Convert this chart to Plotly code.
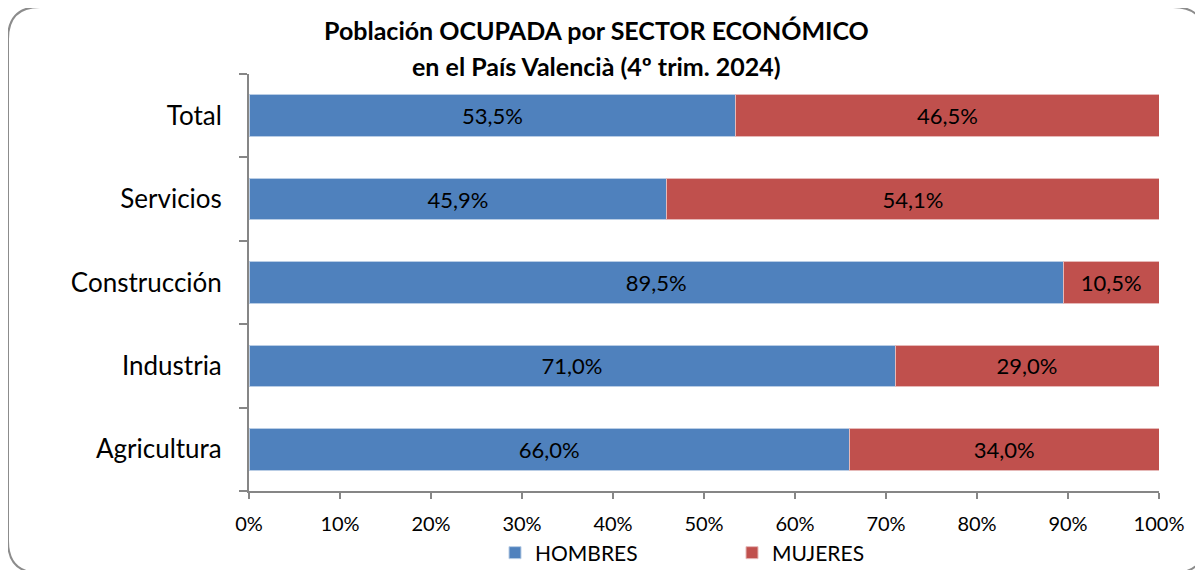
import plotly.graph_objects as go

categories = ["Agricultura", "Industria", "Construcción", "Servicios", "Total"]
hombres = [66.0, 71.0, 89.5, 45.9, 53.5]
mujeres = [34.0, 29.0, 10.5, 54.1, 46.5]
x_ticks = [0, 10, 20, 30, 40, 50, 60, 70, 80, 90, 100]
x_tick_labels = [f"{v}%" for v in x_ticks]

OFF = 8  # page body margin
W, H = 1203 - OFF, 570 - OFF
L, R, T, B = 249, 1159, 74, 491  # target pixel positions in screenshot
FONT = "Lato, 'Open Sans', sans-serif"

def px(x):
    return (x - L) / (R - L)

def py(y):
    return 1 - (y - T) / (B - T)

def fmt(v):
    return f"{v:.1f}".replace(".", ",") + "%"

fig = go.Figure()
fig.add_trace(go.Bar(
    y=categories, x=hombres, orientation="h", name="HOMBRES",
    marker=dict(color="#4F81BD", line=dict(color="#B9CDE5", width=1)),
    text=[fmt(v) for v in hombres], textposition="inside", insidetextanchor="middle",
    textfont=dict(color="black", size=22, family=FONT), hoverinfo="skip",
))
fig.add_trace(go.Bar(
    y=categories, x=mujeres, orientation="h", name="MUJERES",
    marker=dict(color="#C0504D", line=dict(color="#E6B9B8", width=1)),
    text=[fmt(v) for v in mujeres], textposition="inside", insidetextanchor="middle",
    textfont=dict(color="black", size=22, family=FONT), hoverinfo="skip",
))

# rounded outer border
x0, x1, y0, y1, r = 8, 1205, 7, 573, 32
path = (f"M {px(x0+r)} {py(y0)} L {px(x1-r)} {py(y0)} "
        f"Q {px(x1)} {py(y0)} {px(x1)} {py(y0+r)} "
        f"L {px(x1)} {py(y1-r)} Q {px(x1)} {py(y1)} {px(x1-r)} {py(y1)} "
        f"L {px(x0+r)} {py(y1)} Q {px(x0)} {py(y1)} {px(x0)} {py(y1-r)} "
        f"L {px(x0)} {py(y0+r)} "
        f"Q {px(x0)} {py(y0)} {px(x0+r)} {py(y0)} Z")

title_lines = ["Población OCUPADA por SECTOR ECONÓMICO", "en el País Valencià (4º trim. 2024)"]
title_y = [30, 66]

fig.update_layout(
    width=W, height=H,
    margin=dict(l=L - OFF, r=(1203 - R), t=T - OFF, b=570 - B, autoexpand=False),
    barmode="stack", bargap=0.5,
    paper_bgcolor="white", plot_bgcolor="white",
    font=dict(family=FONT, color="black"),
    shapes=[dict(type="path", path=path, xref="paper", yref="paper",
                 line=dict(color="#8C8C8C", width=2), layer="below")],
    annotations=[dict(
        text=f"<b>{t}</b>",
        x=px(596), y=py(yy), xref="paper", yref="paper", xanchor="center", yanchor="middle",
        showarrow=False, font=dict(size=25, family=FONT, color="black"),
    ) for t, yy in zip(title_lines, title_y)],
    legend=dict(orientation="h", x=px(732), y=py(553), xanchor="center", yanchor="middle",
                font=dict(size=21, family=FONT), entrywidth=192, traceorder="normal"),
    showlegend=True,
)
fig.update_xaxes(
    range=[0, 100], tickvals=x_ticks, ticktext=x_tick_labels,
    showgrid=False, zeroline=False, showline=True, linecolor="#868686", linewidth=2,
    ticks="outside", ticklen=6, tickcolor="#868686", tickwidth=2,
    tickfont=dict(size=20, family=FONT), ticklabelstandoff=8,
)
fig.update_yaxes(
    categoryorder="array", categoryarray=categories,
    showgrid=False, zeroline=False, showline=True, linecolor="#868686", linewidth=2,
    ticks="outside", ticklen=8, tickcolor="#868686", tickwidth=2, tickson="boundaries",
    tickfont=dict(size=26, family=FONT), ticklabelstandoff=20,
)

fig.write_html("out.html")
